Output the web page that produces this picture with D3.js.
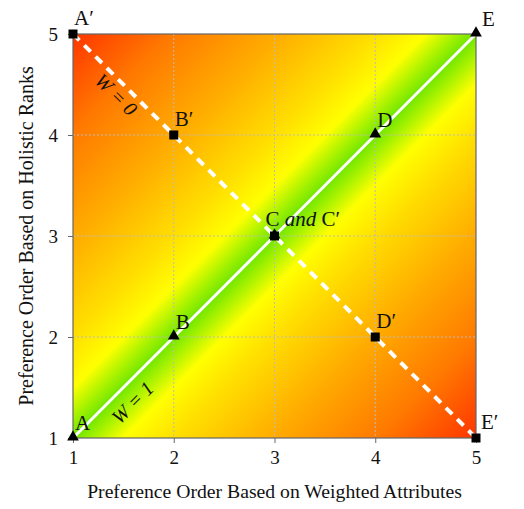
<!DOCTYPE html>
<html>
<head>
<meta charset="utf-8">
<script src="https://cdn.jsdelivr.net/npm/d3@7"></script>
<style>
  body { margin: 0; background: #fff; }
  text { font-family: "Liberation Serif", "Times New Roman", serif; fill: #111; }
</style>
</head>
<body>
<script>
// data
var ticks = [1, 2, 3, 4, 5]
var holisticPoints = ["A", "B", "C", "D", "E"]
var holisticX = [1, 2, 3, 4, 5]
var holisticY = [1, 2, 3, 4, 5]
var weightedPoints = ["A′", "B′", "C′", "D′", "E′"]
var weightedX = [1, 2, 3, 4, 5]
var weightedY = [5, 4, 3, 2, 1]
// colour by distance from the diagonal (in rank units)
var gradDist = [0, 0.2, 0.5, 1, 2, 3, 4]
var gradColor = ["#70e600", "#a6f200", "#ffff00", "#ffdf00", "#ffaa00", "#ff7a00", "#ff3500"]

var screen = {width: 524, height: 509}
var margins = {top: 34, bottom: 71, left: 73, right: 48}
var width = screen.width - margins.left - margins.right
var height = screen.height - margins.top - margins.bottom

var xScale = d3.scaleLinear().domain([1, 5]).range([0, width])
var yScale = d3.scaleLinear().domain([1, 5]).range([height, 0])

var svg = d3.select("body").append("svg")
    .attr("width", screen.width)
    .attr("height", screen.height)

// gradient runs top-left -> bottom-right, so stripes follow the diagonal
var stops = []
gradDist.forEach(function(d, i) {
    stops.push({off: 0.5 - d / 8, c: gradColor[i]})
    if (d > 0) stops.push({off: 0.5 + d / 8, c: gradColor[i]})
})
stops.sort(function(a, b) { return a.off - b.off })

var grad = svg.append("defs").append("linearGradient")
    .attr("id", "bg")
    .attr("x1", 0).attr("y1", 0).attr("x2", 1).attr("y2", 1)
grad.selectAll("stop").data(stops).enter().append("stop")
    .attr("offset", function(d) { return d.off })
    .attr("stop-color", function(d) { return d.c })

var plot = svg.append("g")
    .attr("transform", "translate(" + margins.left + "," + margins.top + ")")

plot.append("rect")
    .attr("width", width).attr("height", height)
    .attr("fill", "url(#bg)")

// dotted grid
plot.append("g").selectAll("line").data(ticks.slice(1, 4)).enter().append("line")
    .attr("x1", function(d) { return xScale(d) }).attr("x2", function(d) { return xScale(d) })
    .attr("y1", 0).attr("y2", height)
    .attr("stroke", "#bbb").attr("stroke-dasharray", "2,2")
plot.append("g").selectAll("line").data(ticks.slice(1, 4)).enter().append("line")
    .attr("y1", function(d) { return yScale(d) }).attr("y2", function(d) { return yScale(d) })
    .attr("x1", 0).attr("x2", width)
    .attr("stroke", "#bbb").attr("stroke-dasharray", "2,2")

// frame
plot.append("rect")
    .attr("width", width).attr("height", height)
    .attr("fill", "none").attr("stroke", "#666").attr("stroke-width", 1.2)

// axes
var xAxis = d3.axisBottom(xScale).tickValues(ticks).tickSize(5).tickPadding(8).tickFormat(d3.format("d"))
var yAxis = d3.axisLeft(yScale).tickValues(ticks).tickSize(5).tickPadding(10).tickFormat(d3.format("d"))

var gx = plot.append("g").attr("transform", "translate(0," + height + ")").call(xAxis)
var gy = plot.append("g").call(yAxis)
;[gx, gy].forEach(function(g) {
    g.select(".domain").remove()
    g.selectAll(".tick line").attr("stroke", "#666")
    g.selectAll(".tick text").style("font-family", "Liberation Serif").style("font-size", "19px").attr("fill", "#111")
})

svg.append("text")
    .attr("x", margins.left + width / 2).attr("y", 498)
    .attr("text-anchor", "middle")
    .style("font-size", "19.7px")
    .text("Preference Order Based on Weighted Attributes")

svg.append("text")
    .attr("transform", "translate(33," + (margins.top + height / 2) + ") rotate(-90)")
    .attr("text-anchor", "middle")
    .style("font-size", "20px")
    .text("Preference Order Based on Holistic Ranks")

// lines
var line = d3.line()
    .x(function(d) { return xScale(d[0]) })
    .y(function(d) { return yScale(d[1]) })

var holistic = holisticX.map(function(x, i) { return [x, holisticY[i]] })
var weighted = weightedX.map(function(x, i) { return [x, weightedY[i]] })

plot.append("path").datum(holistic).attr("d", line)
    .attr("fill", "none").attr("stroke", "#fff").attr("stroke-width", 3)
plot.append("path").datum(weighted).attr("d", line)
    .attr("fill", "none").attr("stroke", "#fff").attr("stroke-width", 4)
    .attr("stroke-dasharray", "9,7")

// markers
plot.selectAll(".tri").data(holistic).enter().append("path")
    .attr("class", "tri")
    .attr("d", d3.symbol().type(d3.symbolTriangle).size(60))
    .attr("transform", function(d) { return "translate(" + xScale(d[0]) + "," + (yScale(d[1]) - 1) + ")" })
    .attr("fill", "#000")

plot.selectAll(".sq").data(weighted).enter().append("rect")
    .attr("class", "sq")
    .attr("x", function(d) { return xScale(d[0]) - 4.5 })
    .attr("y", function(d) { return yScale(d[1]) - 4.5 })
    .attr("width", 9).attr("height", 9)
    .attr("fill", "#000")

// point labels
var labelFont = "21px"
holistic.forEach(function(d, i) {
    if (holisticPoints[i] == "C") return
    var dx = (i == 4) ? 6 : 2
    plot.append("text")
        .attr("x", xScale(d[0]) + dx).attr("y", yScale(d[1]) - 8)
        .style("font-size", labelFont)
        .text(holisticPoints[i])
})
weighted.forEach(function(d, i) {
    if (weightedPoints[i] == "C′") return
    var dx = (i == 4) ? 5 : 1
    plot.append("text")
        .attr("x", xScale(d[0]) + dx).attr("y", yScale(d[1]) - 9)
        .style("font-size", labelFont)
        .text(weightedPoints[i])
})

var cLab = plot.append("text")
    .attr("x", xScale(3) - 9).attr("y", yScale(3) - 10)
    .style("font-size", labelFont)
cLab.append("tspan").text("C ")
cLab.append("tspan").style("font-style", "italic").text("and")
cLab.append("tspan").text(" C′")

// W labels along the lines
plot.append("text")
    .attr("transform", "translate(" + (xScale(1.43) - 5) + "," + (yScale(4.57) + 22) + ") rotate(45)")
    .attr("text-anchor", "middle")
    .style("font-size", "20px").style("font-style", "italic")
    .text("W = 0")

plot.append("text")
    .attr("transform", "translate(" + (xScale(1.6) + 4) + "," + (yScale(1.6) + 30) + ") rotate(-45)")
    .attr("text-anchor", "middle")
    .style("font-size", "20px").style("font-style", "italic")
    .text("W = 1")
</script>
</body>
</html>
